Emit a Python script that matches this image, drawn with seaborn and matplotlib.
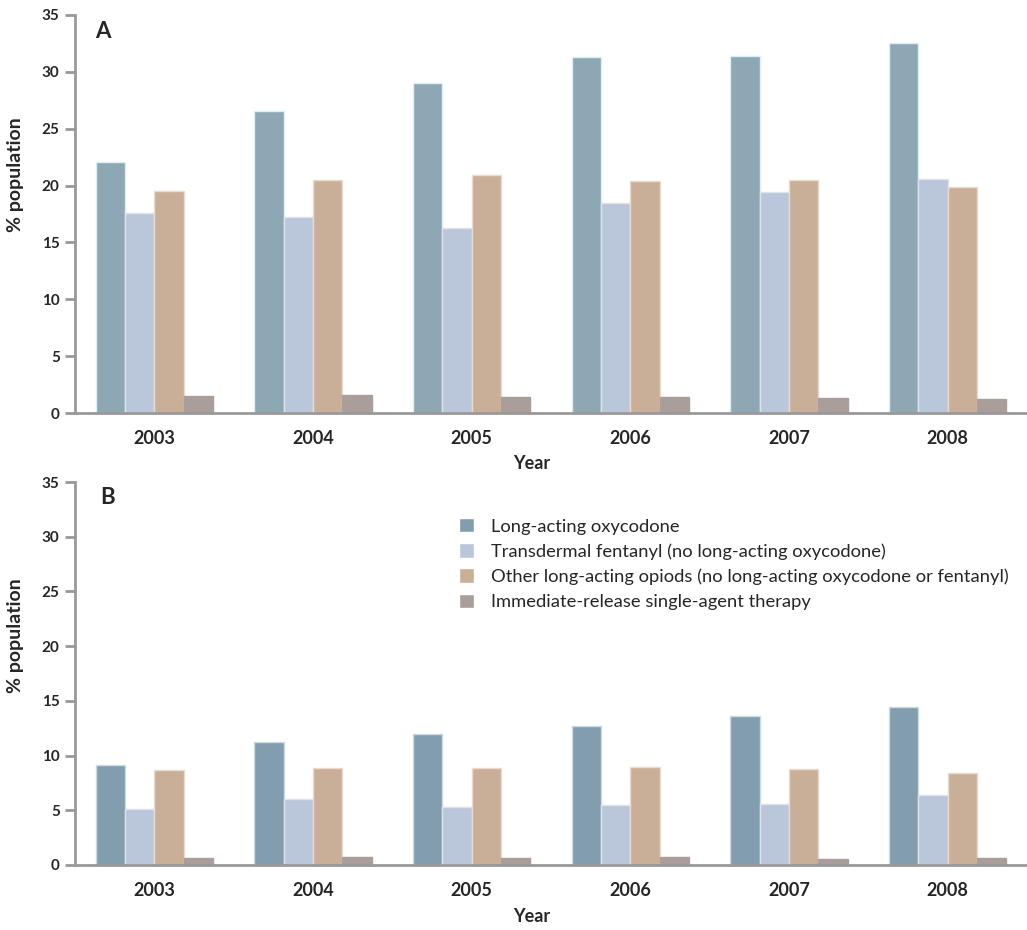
import pandas as pd
import matplotlib.pyplot as plt
import seaborn as sns

# ── Data ─────────────────────────────────────────────────────────────────────
years = ["2003", "2004", "2005", "2006", "2007", "2008"]
groups = ["Long-acting oxycodone",
          "Transdermal fentanyl (no long-acting oxycodone)",
          "Other long-acting opiods (no long-acting oxycodone or fentanyl)",
          "Immediate-release single-agent therapy"]

# panel A
a_oxy   = [22.1, 26.5, 29.0, 31.3, 31.4, 32.5]
a_fent  = [17.6, 17.2, 16.3, 18.5, 19.4, 20.6]
a_other = [19.5, 20.5, 20.9, 20.4, 20.5, 19.9]
a_ir    = [1.5, 1.6, 1.4, 1.45, 1.3, 1.25]

# panel B
b_oxy   = [9.1, 11.2, 12.0, 12.7, 13.6, 14.4]
b_fent  = [5.1, 6.0, 5.3, 5.5, 5.55, 6.4]
b_other = [8.7, 8.85, 8.85, 9.0, 8.75, 8.4]
b_ir    = [0.66, 0.75, 0.63, 0.72, 0.57, 0.63]

yticks = [0, 5, 10, 15, 20, 25, 30, 35]


def long_df(series):
    rows = []
    for g, vals in zip(groups, series):
        for y, v in zip(years, vals):
            rows.append({"Year": y, "Group": g, "Pct": v})
    return pd.DataFrame(rows)


df_a = long_df([a_oxy, a_fent, a_other, a_ir])
df_b = long_df([b_oxy, b_fent, b_other, b_ir])

# ── Style ────────────────────────────────────────────────────────────────────
sns.set_theme(style="white")
plt.rcParams["font.family"] = ["Lato", "DejaVu Sans"]

pal_a = ["#8DA8B4", "#BAC7DA", "#C9AF97", "#A99E9A"]
pal_b = ["#819DAE", "#BAC7DA", "#C9AF97", "#A99E9A"]
edges_a = ["#DCEFF7", "#DCE3EE", "#EADBCD", "#A99E9A"]
edges_b = ["#C9DCE6", "#DCE3EE", "#EADBCD", "#A99E9A"]
axis_grey = "#999999"

fig = plt.figure(figsize=(10.27, 9.30), dpi=100)
ax_a = fig.add_axes([0.073, 0.5556, 0.927, 0.4286])
ax_b = fig.add_axes([0.073, 0.0699, 0.927, 0.4118])


def draw_panel(ax, df, pal, edges, show_legend):
    sns.barplot(data=df, x="Year", y="Pct", hue="Group", hue_order=groups,
                order=years, palette=pal, width=0.74, saturation=1,
                errorbar=None, ax=ax, legend=show_legend)
    for cont, ec in zip(ax.containers, edges):
        for bar in cont:
            bar.set_edgecolor(ec)
            bar.set_linewidth(1.0)

    ax.set_xlim(-0.5, 5.5)
    ax.set_ylim(0, 35)
    ax.set_yticks(yticks)
    ax.set_xticks(range(len(years)))
    ax.set_xticks([i - 0.5 for i in range(len(years))], minor=True)

    for s in ["top", "right"]:
        ax.spines[s].set_visible(False)
    for s in ["left", "bottom"]:
        ax.spines[s].set_color(axis_grey)
        ax.spines[s].set_linewidth(2)

    ax.tick_params(axis="x", which="major", length=0, pad=12,
                   labelsize=13)
    ax.tick_params(axis="x", which="minor", length=9, width=2,
                   color=axis_grey, direction="out")
    ax.tick_params(axis="y", length=7, width=2, color=axis_grey,
                   direction="out", pad=4, labelsize=11, left=True)
    for lab in ax.get_xticklabels() + ax.get_yticklabels():
        lab.set_fontweight("bold")

    ax.set_ylabel("% population", fontsize=14, fontweight="bold")
    ax.yaxis.set_label_coords(-0.054, 0.6)
    ax.set_xlabel("Year", fontsize=13, fontweight="bold")


draw_panel(ax_a, df_a, pal_a, edges_a, False)
draw_panel(ax_b, df_b, pal_b, edges_b, True)
ax_a.xaxis.set_label_coords(0.48, -0.105)
ax_b.xaxis.set_label_coords(0.48, -0.112)

handles, labels = ax_b.get_legend_handles_labels()
ax_b.legend(handles, labels, loc="upper left",
            bbox_to_anchor=(459 / 1027, 1 - 518 / 930),
            bbox_transform=fig.transFigure, frameon=False,
            fontsize=13.2, handlelength=0.83, handleheight=0.83,
            handletextpad=0.9, labelspacing=0.47, borderpad=0,
            borderaxespad=0)

fig.text(103 / 1027, 1 - 32 / 930, "A", fontsize=16, fontweight="bold",
         ha="center", va="center")
fig.text(108 / 1027, 1 - 497 / 930, "B", fontsize=16, fontweight="bold",
         ha="center", va="center")

fig.savefig("out.png", dpi=100, facecolor="white")
